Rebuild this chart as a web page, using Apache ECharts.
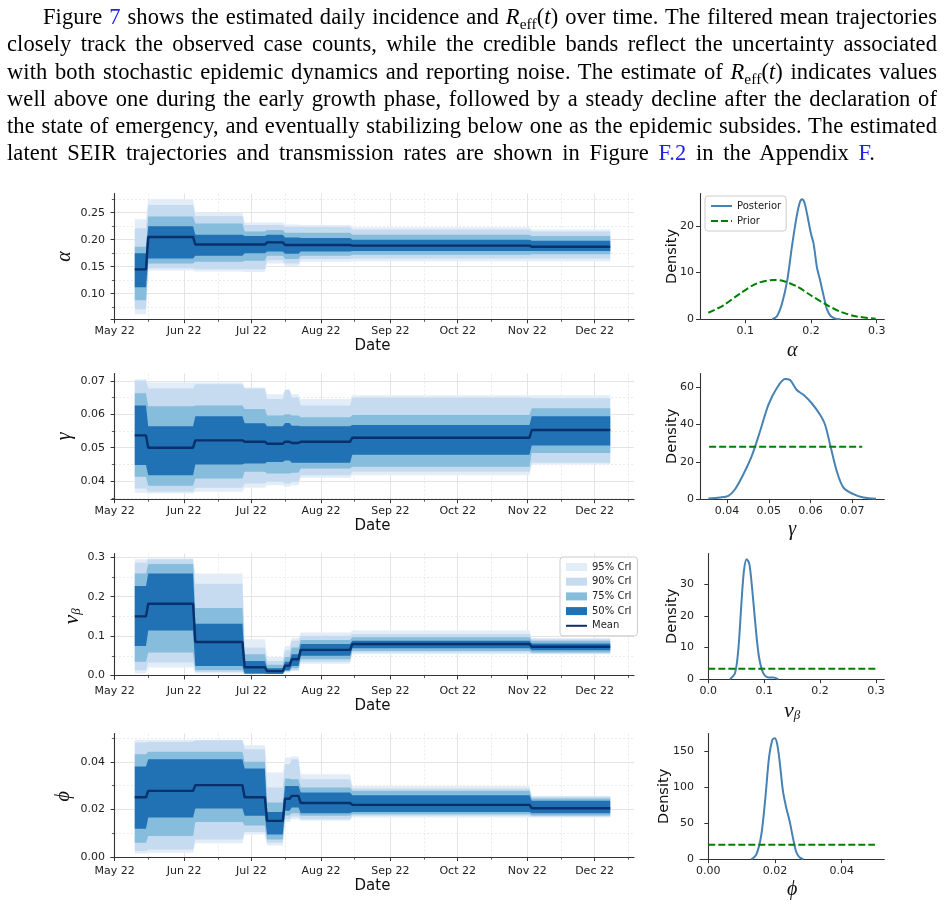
<!DOCTYPE html>
<html>
<head>
<meta charset="utf-8">
<script src="https://cdn.jsdelivr.net/npm/echarts@6/dist/echarts.min.js"></script>
<style>
  html, body { margin: 0; padding: 0; background: #fff; }
  body { width: 945px; height: 904px; position: relative; overflow: hidden; }
  #chart { position: absolute; left: 0; top: 0; width: 945px; height: 904px; }
  #para {
    position: absolute; left: 7px; top: 3px; width: 930px;
    font-family: "Liberation Serif", "DejaVu Serif", serif;
    font-size: 22.5px; letter-spacing: 0.1px; line-height: 27.3px; color: #000;
  }
  #para div { white-space: nowrap; }
  #para div.first { padding-left: 36px; }
  #para .ref { color: #2222ee; }
  #para sub { font-size: 0.68em; vertical-align: -0.3em; line-height: 0; }
</style>
</head>
<body>
<div id="chart"></div>
<div id="para">
<div class="first"><span>Figure <span class="ref">7</span> shows the estimated daily incidence and <i>R</i><sub>eff</sub>(<i>t</i>) over time. The filtered mean trajectories</span></div>
<div><span>closely track the observed case counts, while the credible bands reflect the uncertainty associated</span></div>
<div><span>with both stochastic epidemic dynamics and reporting noise. The estimate of <i>R</i><sub>eff</sub>(<i>t</i>) indicates values</span></div>
<div><span>well above one during the early growth phase, followed by a steady decline after the declaration of</span></div>
<div><span>the state of emergency, and eventually stabilizing below one as the epidemic subsides. The estimated</span></div>
<div class="last"><span>latent SEIR trajectories and transmission rates are shown in Figure <span class="ref">F.2</span> in the Appendix <span class="ref">F</span>.</span></div>
</div>
<script>
// days counted from May 1 (2022)
const dayTicks = [0, 31, 61, 92, 123, 153, 184, 214];
const dayTickLabels = ['May 22', 'Jun 22', 'Jul 22', 'Aug 22', 'Sep 22', 'Oct 22', 'Nov 22', 'Dec 22'];
const dayMinorTicks = [15, 46, 76, 107, 138, 168, 199, 229];

// estimation windows (piecewise constant)
const segStart = [9, 15, 36, 58, 68, 76, 79, 83, 106, 186];
const segEnd   = [14, 35, 57, 67, 75, 78, 82, 105, 185, 221];

// alpha
const alphaMean = [0.145, 0.205, 0.191, 0.191, 0.195, 0.190, 0.190, 0.190, 0.189, 0.187];
const alphaLo50 = [0.112, 0.165, 0.170, 0.175, 0.178, 0.174, 0.174, 0.178, 0.179, 0.179];
const alphaHi50 = [0.175, 0.225, 0.209, 0.207, 0.209, 0.204, 0.204, 0.203, 0.200, 0.198];
const alphaLo75 = [0.088, 0.156, 0.159, 0.161, 0.170, 0.164, 0.164, 0.170, 0.172, 0.173];
const alphaHi75 = [0.187, 0.243, 0.230, 0.215, 0.218, 0.213, 0.213, 0.213, 0.209, 0.207];
const alphaLo90 = [0.071, 0.147, 0.145, 0.145, 0.162, 0.156, 0.156, 0.164, 0.165, 0.165];
const alphaHi90 = [0.221, 0.264, 0.244, 0.227, 0.227, 0.224, 0.224, 0.224, 0.219, 0.215];
const alphaLo95 = [0.062, 0.143, 0.141, 0.140, 0.156, 0.151, 0.151, 0.159, 0.160, 0.160];
const alphaHi95 = [0.238, 0.275, 0.250, 0.232, 0.232, 0.228, 0.228, 0.227, 0.223, 0.219];

// gamma
const gammaMean = [0.0537, 0.0500, 0.0522, 0.0518, 0.0512, 0.0518, 0.0514, 0.0518, 0.0530, 0.0553];
const gammaLo50 = [0.0448, 0.0418, 0.0450, 0.0453, 0.0457, 0.0462, 0.0455, 0.0455, 0.0479, 0.0507];
const gammaHi50 = [0.0626, 0.0564, 0.0594, 0.0573, 0.0564, 0.0574, 0.0566, 0.0564, 0.0568, 0.0594];
const gammaLo75 = [0.0413, 0.0386, 0.0408, 0.0428, 0.0423, 0.0423, 0.0425, 0.0438, 0.0443, 0.0484];
const gammaHi75 = [0.0663, 0.0624, 0.0626, 0.0616, 0.0596, 0.0600, 0.0596, 0.0591, 0.0598, 0.0618];
const gammaLo90 = [0.0378, 0.0368, 0.0380, 0.0393, 0.0398, 0.0393, 0.0398, 0.0418, 0.0428, 0.0455];
const gammaHi90 = [0.0700, 0.0677, 0.0690, 0.0677, 0.0646, 0.0673, 0.0650, 0.0626, 0.0650, 0.0648];
const gammaLo95 = [0.0365, 0.0363, 0.0368, 0.0380, 0.0388, 0.0383, 0.0388, 0.0410, 0.0418, 0.0450];
const gammaHi95 = [0.0705, 0.0695, 0.0695, 0.0680, 0.0660, 0.0675, 0.0660, 0.0646, 0.0657, 0.0657];

// nu_beta
const nuMean = [0.150, 0.182, 0.085, 0.021, 0.011, 0.025, 0.041, 0.065, 0.080, 0.073];
const nuLo50 = [0.075, 0.114, 0.024, 0.005, 0.004, 0.013, 0.024, 0.050, 0.069, 0.064];
const nuHi50 = [0.227, 0.259, 0.131, 0.037, 0.018, 0.035, 0.054, 0.080, 0.088, 0.081];
const nuLo75 = [0.035, 0.058, 0.013, 0.004, 0.004, 0.011, 0.018, 0.041, 0.062, 0.058];
const nuHi75 = [0.259, 0.283, 0.171, 0.054, 0.027, 0.047, 0.071, 0.090, 0.097, 0.088];
const nuLo90 = [0.013, 0.033, 0.009, 0.004, 0.004, 0.009, 0.013, 0.035, 0.058, 0.056];
const nuHi90 = [0.286, 0.295, 0.233, 0.071, 0.037, 0.064, 0.088, 0.101, 0.105, 0.092];
const nuLo95 = [0.005, 0.020, 0.005, 0.004, 0.004, 0.007, 0.011, 0.030, 0.054, 0.054];
const nuHi95 = [0.295, 0.297, 0.259, 0.092, 0.047, 0.075, 0.095, 0.109, 0.114, 0.095];

// phi
const phiMean = [0.0251, 0.0278, 0.0302, 0.0251, 0.0152, 0.0245, 0.0257, 0.0227, 0.0219, 0.0205];
const phiLo50 = [0.0119, 0.0166, 0.0204, 0.0173, 0.0095, 0.0194, 0.0208, 0.0184, 0.0189, 0.0184];
const phiHi50 = [0.0380, 0.0411, 0.0411, 0.0372, 0.0189, 0.0299, 0.0299, 0.0271, 0.0260, 0.0236];
const phiLo75 = [0.0060, 0.0088, 0.0147, 0.0133, 0.0074, 0.0175, 0.0184, 0.0173, 0.0180, 0.0175];
const phiHi75 = [0.0432, 0.0442, 0.0442, 0.0400, 0.0229, 0.0330, 0.0327, 0.0292, 0.0278, 0.0246];
const phiLo90 = [0.0025, 0.0032, 0.0074, 0.0105, 0.0060, 0.0159, 0.0170, 0.0159, 0.0173, 0.0170];
const phiHi90 = [0.0481, 0.0484, 0.0491, 0.0453, 0.0292, 0.0390, 0.0411, 0.0327, 0.0288, 0.0254];
const phiLo95 = [0.0015, 0.0018, 0.0058, 0.0095, 0.0049, 0.0147, 0.0159, 0.0152, 0.0166, 0.0166];
const phiHi95 = [0.0493, 0.0493, 0.0493, 0.0470, 0.0355, 0.0418, 0.0422, 0.0348, 0.0299, 0.0254];

// densities
const alphaPostX = [0.141, 0.148, 0.156, 0.164, 0.171, 0.178, 0.183, 0.1865, 0.190, 0.194, 0.200, 0.204, 0.209, 0.2145, 0.2196, 0.2247, 0.230, 0.237, 0.245];
const alphaPostY = [0, 0.6, 3.4, 8.4, 15.5, 21.8, 25.0, 25.7, 25.0, 22.6, 18.3, 16.2, 11.2, 8.0, 4.8, 2.0, 0.7, 0.14, 0];
const alphaPriorX = [0.044, 0.067, 0.092, 0.118, 0.143, 0.158, 0.179, 0.199, 0.220, 0.245, 0.270, 0.2985];
const alphaPriorY = [1.4, 3.0, 5.5, 7.7, 8.4, 8.2, 7.0, 5.2, 3.4, 1.6, 0.6, 0.1];

const gammaPostX = [0.0355, 0.0383, 0.0403, 0.0419, 0.0439, 0.0459, 0.0479, 0.0499, 0.0519, 0.0539, 0.0551, 0.0567, 0.0583, 0.0603, 0.0623, 0.0635, 0.0647, 0.0663, 0.0679, 0.0703, 0.0727, 0.0757];
const gammaPostY = [0.35, 0.9, 1.8, 5.3, 13.3, 23.0, 36.3, 50.4, 59.3, 64.2, 63.7, 58.4, 55.8, 51.3, 45.1, 39.8, 29.2, 15.0, 6.2, 2.7, 0.9, 0.2];
const gammaPriorX = [0.0357, 0.0724];
const gammaPriorY = [28, 28];

const nuPostX = [0.0387, 0.0477, 0.0536, 0.0596, 0.0638, 0.0685, 0.0733, 0.0787, 0.0846, 0.0906, 0.0983, 0.1073, 0.1162, 0.1252];
const nuPostY = [0, 1.9, 9.2, 25.0, 34.4, 37.9, 36.5, 28.1, 16.6, 7.1, 1.9, 0.5, 0.5, 0];
const nuPriorX = [0, 0.3];
const nuPriorY = [3.33, 3.33];

const phiPostX = [0.0129, 0.0144, 0.0159, 0.0172, 0.0182, 0.0192, 0.0199, 0.0206, 0.0214, 0.0224, 0.0234, 0.0244, 0.0254, 0.0263, 0.0273, 0.0285];
const phiPostY = [0, 6.5, 34, 90, 141, 166, 168.5, 161.6, 136, 94.4, 71.3, 52.8, 29.6, 11.1, 2.8, 0];
const phiPriorX = [0, 0.05];
const phiPriorY = [20, 20];

// tick values
const alphaTicks = [0.10, 0.15, 0.20, 0.25];
const alphaMinor = [0.075, 0.125, 0.175, 0.225, 0.275];
const gammaTicks = [0.04, 0.05, 0.06, 0.07];
const gammaMinor = [0.035, 0.045, 0.055, 0.065];
const nuTicks = [0.0, 0.1, 0.2, 0.3];
const nuMinor = [0.05, 0.15, 0.25];
const phiTicks = [0.00, 0.02, 0.04];
const phiMinor = [0.01, 0.03, 0.05];

const alphaDensXTicks = [0.1, 0.2, 0.3];
const alphaDensYTicks = [0, 10, 20];
const gammaDensXTicks = [0.04, 0.05, 0.06, 0.07];
const gammaDensYTicks = [0, 20, 40, 60];
const nuDensXTicks = [0.0, 0.1, 0.2, 0.3];
const nuDensYTicks = [0, 10, 20, 30];
const phiDensXTicks = [0.00, 0.02, 0.04];
const phiDensYTicks = [0, 50, 100, 150];

const bandColors = {'95% CrI': '#e2edf8', '90% CrI': '#c6dbef', '75% CrI': '#86bcdc', '50% CrI': '#2171b5'};
const meanColor = '#08306b';

const rowTop = [193.6, 373.5, 553.5, 733.5];
const rowH = 125.7;
const xMin = -1.6, xMax = 231.6;

const tickFont = {fontFamily: 'DejaVu Sans', fontSize: 11, color: '#222'};
const spineLine = {show: true, lineStyle: {color: '#333', width: 1.1}};
const majorGrid = {color: '#dddddd', width: 0.8};
const minorGrid = {color: '#e6e6e6', width: 0.8, type: [2, 2]};
const mathFont = {fontFamily: 'Liberation Serif', fontStyle: 'italic', fontSize: 20, color: '#111'};

const grids = [], xAxes = [], yAxes = [], series = [];

// justify the paragraph lines to the text width (last line to its own width)
document.querySelectorAll('#para div').forEach(div => {
  const span = div.firstElementChild;
  let target = 930 - (div.classList.contains('first') ? 36 : 0);
  if (div.classList.contains('last')) target = 868;
  const spaces = (span.textContent.match(/ /g) || []).length;
  const w = span.getBoundingClientRect().width;
  span.style.wordSpacing = ((target - w) / spaces) + 'px';
});

function stepPoints(vals) {
  const pts = [];
  vals.forEach((v, i) => { pts.push([segStart[i], v], [segEnd[i], v]); });
  return pts;
}

function bandSeries(name, xi, yi, lo, hi) {
  const loPts = stepPoints(lo), hiPts = stepPoints(hi);
  const pts = loPts.map((p, i) => [p[0], p[1], hiPts[i][1]]);
  const color = bandColors[name];
  return {
    type: 'custom', name: name, xAxisIndex: xi, yAxisIndex: yi,
    itemStyle: {color: color}, silent: true, clip: true,
    data: pts, encode: {x: 0, y: [1, 2]},
    renderItem(params, api) {
      if (params.dataIndex !== 0) return null;
      const upper = pts.map(p => api.coord([p[0], p[2]]));
      const lower = pts.map(p => api.coord([p[0], p[1]])).reverse();
      return {type: 'polygon', shape: {points: upper.concat(lower)}, style: {fill: color}};
    }
  };
}

function leftPlot(row, p) {
  const g = grids.length;
  grids.push({left: 111, top: rowTop[row], width: 523, height: rowH});
  const xi = xAxes.length, yi = yAxes.length;
  xAxes.push({
    type: 'value', gridIndex: g, position: 'bottom', min: xMin, max: xMax,
    axisLine: spineLine,
    axisTick: {show: true, customValues: dayTicks, length: 4, lineStyle: {color: '#333', width: 1}},
    axisLabel: {customValues: dayTicks, margin: 6, formatter: v => dayTickLabels[dayTicks.indexOf(v)], ...tickFont},
    splitLine: {show: true, lineStyle: majorGrid},
    name: 'Date', nameLocation: 'middle', nameGap: 19, nameMoveOverlap: false,
    nameTextStyle: {fontFamily: 'DejaVu Sans', fontSize: 15, color: '#111'}
  });
  xAxes.push({
    type: 'value', gridIndex: g, position: 'bottom', min: xMin, max: xMax,
    axisLine: {show: false},
    axisTick: {show: true, customValues: dayMinorTicks, length: 2.5, lineStyle: {color: '#333', width: 0.8}},
    axisLabel: {show: false},
    splitLine: {show: true, lineStyle: minorGrid}
  });
  yAxes.push({
    type: 'value', gridIndex: g, position: 'left', min: p.min, max: p.max,
    axisLine: spineLine,
    axisTick: {show: true, customValues: p.ticks, length: 4, lineStyle: {color: '#333', width: 1}},
    axisLabel: {customValues: p.ticks, margin: 6, formatter: v => v.toFixed(p.dec), ...tickFont},
    splitLine: {show: true, lineStyle: majorGrid},
    name: p.label, nameLocation: 'middle', nameRotate: 90, nameGap: p.nameGap, nameMoveOverlap: false,
    nameTextStyle: p.nameStyle || mathFont
  });
  yAxes.push({
    type: 'value', gridIndex: g, position: 'left', min: p.min, max: p.max,
    axisLine: {show: false},
    axisTick: {show: true, customValues: p.minor, length: 2.5, lineStyle: {color: '#333', width: 0.8}},
    axisLabel: {show: false},
    splitLine: {show: true, lineStyle: minorGrid}
  });
  series.push(bandSeries('95% CrI', xi, yi, p.lo95, p.hi95));
  series.push(bandSeries('90% CrI', xi, yi, p.lo90, p.hi90));
  series.push(bandSeries('75% CrI', xi, yi, p.lo75, p.hi75));
  series.push(bandSeries('50% CrI', xi, yi, p.lo50, p.hi50));
  series.push({
    type: 'line', name: 'Mean', xAxisIndex: xi, yAxisIndex: yi,
    data: stepPoints(p.mean), symbol: 'none', silent: true,
    lineStyle: {color: meanColor, width: 2.4}, itemStyle: {color: meanColor}, z: 5
  });
}

function densityPlot(row, p) {
  const g = grids.length;
  grids.push({left: 700, top: rowTop[row], width: 184.3, height: rowH});
  const xi = xAxes.length, yi = yAxes.length;
  xAxes.push({
    type: 'value', gridIndex: g, position: 'bottom', min: p.xmin, max: p.xmax,
    axisLine: spineLine,
    axisTick: {show: true, customValues: p.xticks, length: 4, lineStyle: {color: '#333', width: 1}},
    axisLabel: {customValues: p.xticks, margin: 6, formatter: v => v.toFixed(p.xdec), ...tickFont},
    splitLine: {show: false},
    name: p.label, nameLocation: 'middle', nameGap: 21, nameMoveOverlap: false,
    nameTextStyle: p.nameStyle || mathFont
  });
  yAxes.push({
    type: 'value', gridIndex: g, position: 'left', min: 0, max: p.ymax,
    axisLine: spineLine,
    axisTick: {show: true, customValues: p.yticks, length: 4, lineStyle: {color: '#333', width: 1}},
    axisLabel: {customValues: p.yticks, margin: 6, formatter: v => String(v), ...tickFont},
    splitLine: {show: false},
    name: 'Density', nameLocation: 'middle', nameRotate: 90, nameGap: p.dGap, nameMoveOverlap: false,
    nameTextStyle: {fontFamily: 'DejaVu Sans', fontSize: 14.5, color: '#111'}
  });
  series.push({
    type: 'line', name: 'Posterior', xAxisIndex: xi, yAxisIndex: yi,
    data: p.postX.map((x, i) => [x, p.postY[i]]), symbol: 'none', smooth: 0.3, silent: true,
    lineStyle: {color: '#4682b4', width: 2}, itemStyle: {color: '#4682b4'}
  });
  series.push({
    type: 'line', name: 'Prior', xAxisIndex: xi, yAxisIndex: yi,
    data: p.priorX.map((x, i) => [x, p.priorY[i]]), symbol: 'none', smooth: p.priorX.length > 2 ? 0.3 : false, silent: true,
    lineStyle: {color: '#008000', width: 2, type: [7, 3]}, itemStyle: {color: '#008000'}
  });
}

const nuRich = {
  a: {fontFamily: 'Liberation Serif', fontStyle: 'italic', fontSize: 22, lineHeight: 22, verticalAlign: 'top', color: '#111'},
  b: {fontFamily: 'Liberation Serif', fontStyle: 'italic', fontSize: 13, lineHeight: 13, verticalAlign: 'bottom', padding: [10, 0, 0, 0], color: '#111'}
};

leftPlot(0, {min: 0.0525, max: 0.2853, ticks: alphaTicks, minor: alphaMinor, dec: 2, label: 'α', nameGap: 36,
  mean: alphaMean, lo50: alphaLo50, hi50: alphaHi50, lo75: alphaLo75, hi75: alphaHi75,
  lo90: alphaLo90, hi90: alphaHi90, lo95: alphaLo95, hi95: alphaHi95});
leftPlot(1, {min: 0.0346, max: 0.0722, ticks: gammaTicks, minor: gammaMinor, dec: 2, label: 'γ', nameGap: 36,
  mean: gammaMean, lo50: gammaLo50, hi50: gammaHi50, lo75: gammaLo75, hi75: gammaHi75,
  lo90: gammaLo90, hi90: gammaHi90, lo95: gammaLo95, hi95: gammaHi95});
leftPlot(2, {min: -0.0095, max: 0.3095, ticks: nuTicks, minor: nuMinor, dec: 1, label: '{a|ν}{b|β}', nameGap: 28,
  nameStyle: {rich: nuRich},
  mean: nuMean, lo50: nuLo50, hi50: nuHi50, lo75: nuLo75, hi75: nuHi75,
  lo90: nuLo90, hi90: nuHi90, lo95: nuLo95, hi95: nuHi95});
leftPlot(3, {min: -0.0009, max: 0.0519, ticks: phiTicks, minor: phiMinor, dec: 2, label: 'ϕ', nameGap: 37,
  mean: phiMean, lo50: phiLo50, hi50: phiHi50, lo75: phiLo75, hi75: phiHi75,
  lo90: phiLo90, hi90: phiHi90, lo95: phiLo95, hi95: phiHi95});

densityPlot(0, {xmin: 0.0313, xmax: 0.3115, xticks: alphaDensXTicks, xdec: 1, ymax: 26.9, yticks: alphaDensYTicks,
  label: 'α', dGap: 20.5, postX: alphaPostX, postY: alphaPostY, priorX: alphaPriorX, priorY: alphaPriorY});
densityPlot(1, {xmin: 0.0335, xmax: 0.0777, xticks: gammaDensXTicks, xdec: 2, ymax: 67.2, yticks: gammaDensYTicks,
  label: 'γ', dGap: 20.5, postX: gammaPostX, postY: gammaPostY, priorX: gammaPriorX, priorY: gammaPriorY});
densityPlot(2, {xmin: -0.0149, xmax: 0.3149, xticks: nuDensXTicks, xdec: 1, ymax: 39.7, yticks: nuDensYTicks,
  label: '{a|ν}{b|β}', nameStyle: {rich: nuRich}, dGap: 20.5, postX: nuPostX, postY: nuPostY, priorX: nuPriorX, priorY: nuPriorY});
densityPlot(3, {xmin: -0.0025, xmax: 0.0528, xticks: phiDensXTicks, xdec: 2, ymax: 175, yticks: phiDensYTicks,
  label: 'ϕ', dGap: 28.5, postX: phiPostX, postY: phiPostY, priorX: phiPriorX, priorY: phiPriorY});

const legendBox = {
  orient: 'vertical', borderColor: '#cccccc', borderWidth: 1, borderRadius: 3,
  backgroundColor: 'rgba(255,255,255,0.85)',
  textStyle: {fontFamily: 'DejaVu Sans', fontSize: 10, color: '#222'},
  selectedMode: false
};
const noSymbol = {opacity: 0};

const chart = echarts.init(document.getElementById('chart'), null, {renderer: 'canvas'});
chart.setOption({
  animation: false,
  grid: grids,
  xAxis: xAxes,
  yAxis: yAxes,
  legend: [
    Object.assign({}, legendBox, {
      left: 560, top: 557, itemWidth: 21, itemHeight: 8, itemGap: 4.7, padding: [5, 6, 5, 5],
      data: [
        {name: '95% CrI', icon: 'rect'}, {name: '90% CrI', icon: 'rect'},
        {name: '75% CrI', icon: 'rect'}, {name: '50% CrI', icon: 'rect'},
        {name: 'Mean', itemStyle: noSymbol}
      ]
    }),
    Object.assign({}, legendBox, {
      left: 705, top: 196, itemWidth: 21, itemHeight: 8, itemGap: 5, padding: [5, 5, 5, 5],
      data: [{name: 'Posterior', itemStyle: noSymbol}, {name: 'Prior', itemStyle: noSymbol}]
    })
  ],
  series: series
});
</script>
</body>
</html>
